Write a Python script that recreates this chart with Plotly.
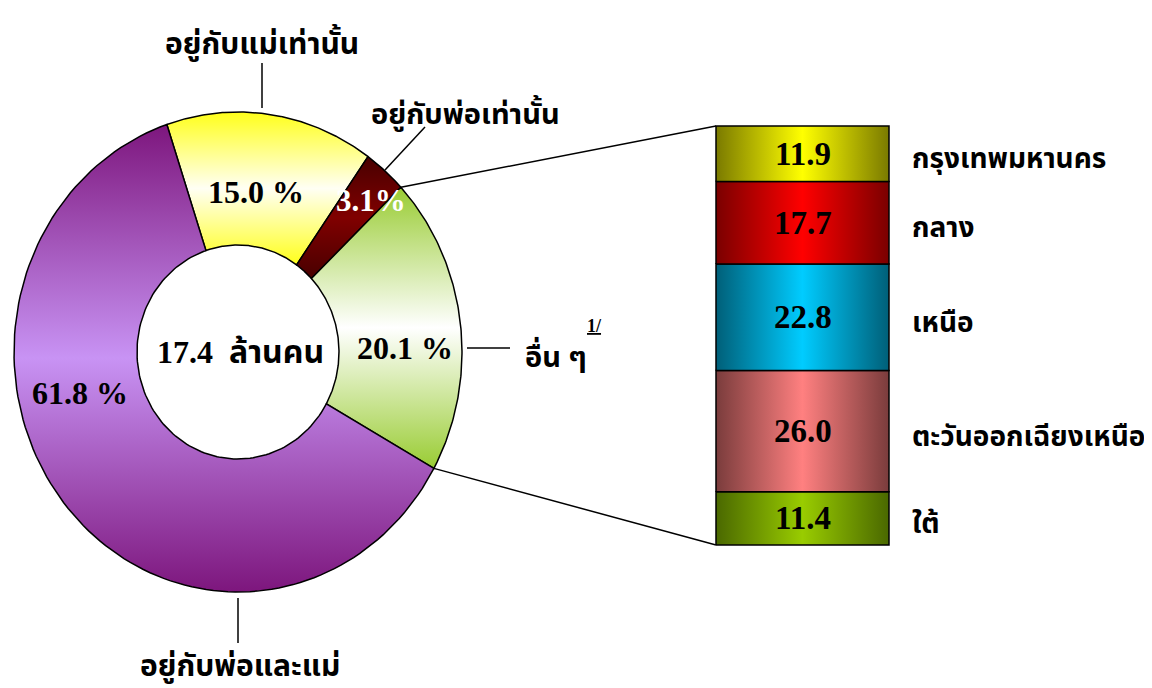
import numpy as np
import plotly.graph_objects as go

# donut: living arrangement (percent)
living_labels = ["อยู่กับแม่เท่านั้น", "อยู่กับพ่อเท่านั้น", "อื่น ๆ", "อยู่กับพ่อและแม่"]
living_values = [15.0, 3.1, 20.1, 61.8]
living_text = ["15.0 %", "3.1%", "20.1 %", "61.8 %"]
total_text = "17.4  ล้านคน"

# stacked bar: breakdown of "อื่น ๆ" by region (bottom -> top)
region_labels = ["ใต้", "ตะวันออกเฉียงเหนือ", "เหนือ", "กลาง", "กรุงเทพมหานคร"]
region_values = [11.4, 26.0, 22.8, 17.7, 11.9]

W, H = 1152, 688
OFF = 8  # page body margin
FONT = "Liberation Serif, Times New Roman, Noto Sans Thai, serif"

# y axis in bar value units; bar spans pixel rows 545 (0) .. 126 (total)
BAR_BOT, BAR_TOP = 545, 126
PX = sum(region_values) / (BAR_BOT - BAR_TOP)


def uy(py):
    return (BAR_BOT - py) * PX


# donut geometry (x in px, y in value units)
CX, CY = 238, uy(352)
RX_OUT, RY_OUT = 224, 240 * PX
RX_IN, RY_IN = 101, 107 * PX
END_GREEN = 119  # degrees clockwise from 12 o'clock where "others" ends

slice_fill = [
    ("#ffff1a", "#fffff4"),
    ("#480000", "#800000"),
    ("#99cc33", "#ffffff"),
    ("#7d167d", "#c893f4"),
]

fig = go.Figure()

start = END_GREEN - sum(living_values[:3]) * 3.6
angles = []
a = start
for v, (edge, mid) in zip(living_values, slice_fill):
    a0, a1 = a, a + v * 3.6
    angles.append((a0, a1))
    t = np.radians(np.linspace(a0, a1, 120))
    xs = np.concatenate([CX + RX_OUT * np.sin(t), CX + RX_IN * np.sin(t[::-1])])
    ys = np.concatenate([CY + RY_OUT * np.cos(t), CY + RY_IN * np.cos(t[::-1])])
    xs = np.append(xs, xs[0])
    ys = np.append(ys, ys[0])
    fig.add_trace(go.Scatter(
        x=xs, y=ys, mode="lines", fill="toself",
        line=dict(color="black", width=1.5),
        fillgradient=dict(type="vertical",
                          colorscale=[[0, edge], [0.5, mid], [1, edge]]),
        hoverinfo="skip", showlegend=False,
    ))
    a = a1

# stacked bar of regions
BX0, BX1 = 716, 889
bar_fill = [
    ("#4a6800", "#99cc00"),
    ("#7a3c3c", "#ff8080"),
    ("#005f78", "#00ccff"),
    ("#7a0000", "#ff0000"),
    ("#7a7a00", "#ffff00"),
]
base = 0
for v, (edge, mid) in zip(region_values, bar_fill):
    fig.add_trace(go.Scatter(
        x=[BX0, BX1, BX1, BX0, BX0], y=[base, base, base + v, base + v, base],
        mode="lines", fill="toself",
        line=dict(color="black", width=1.5),
        fillgradient=dict(type="horizontal",
                          colorscale=[[0, edge], [0.5, mid], [1, edge]]),
        hoverinfo="skip", showlegend=False,
    ))
    base += v

# connector lines from the "others" slice to the bar
g0, g1 = np.radians(angles[2])
for ang, yb in [(g0, sum(region_values)), (g1, 0)]:
    fig.add_trace(go.Scatter(
        x=[CX + RX_OUT * np.sin(ang), BX0], y=[CY + RY_OUT * np.cos(ang), yb],
        mode="lines", line=dict(color="black", width=1.5),
        hoverinfo="skip", showlegend=False,
    ))

# leader lines (px coordinates)
leaders = [((262, 63), (262, 108)), ((425, 127), (385, 170)),
           ((467, 348), (510, 348)), ((238, 598), (238, 643))]
for (x0, y0), (x1, y1) in leaders:
    fig.add_shape(type="line", x0=x0, x1=x1, y0=uy(y0), y1=uy(y1),
                  line=dict(color="black", width=1.5))

ann = []


def text(x, y, s, size=32, color="black", xanchor="center"):
    ann.append(dict(x=x, y=uy(y), text="<b>%s</b>" % s, showarrow=False,
                    xanchor=xanchor, yanchor="middle",
                    font=dict(family=FONT, size=size, color=color)))


# slice values
text(256, 192, living_text[0])
text(371, 200, living_text[1], size=31, color="white")
text(405, 348, living_text[2])
text(80, 393, living_text[3])
text(240, 352, total_text, size=32)

# slice labels
text(262, 42, living_labels[0], size=30)
text(465, 113, living_labels[1], size=29)
text(523, 354, living_labels[2], size=29, xanchor="left")
text(585, 326, "<u>1/</u>", size=18, xanchor="left")
text(240, 666, living_labels[3], size=30)

# bar values and region labels
base = 0
for v, lab in zip(region_values, region_labels):
    mid_px = BAR_BOT - (base + v / 2) / PX
    text((BX0 + BX1) / 2, mid_px, "%.1f" % v, size=33)
    text(910, mid_px + 5, lab, size=28, xanchor="left")
    base += v

fig.update_layout(
    width=W, height=H,
    margin=dict(l=0, r=0, t=0, b=0),
    paper_bgcolor="white", plot_bgcolor="white",
    xaxis=dict(range=[OFF, W + OFF], visible=False, fixedrange=True),
    yaxis=dict(range=[uy(H + OFF), uy(OFF)], visible=False, fixedrange=True),
    annotations=ann,
    showlegend=False,
)

fig.write_html("out.html")
